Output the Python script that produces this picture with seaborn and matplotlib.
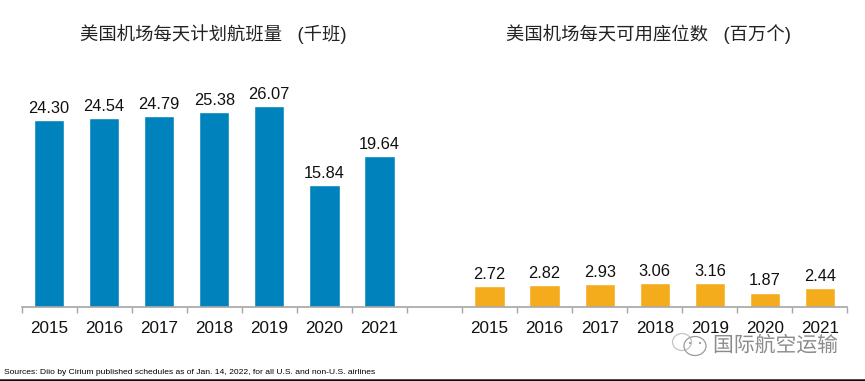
import matplotlib
matplotlib.use('Agg')
import matplotlib.pyplot as plt
import matplotlib.patheffects as pe
from matplotlib.lines import Line2D
from matplotlib.patches import Ellipse
from matplotlib.transforms import Affine2D
import pandas as pd
import seaborn as sns

# Values
years = ['2015', '2016', '2017', '2018', '2019', '2020', '2021']
flights = [24.30, 24.54, 24.79, 25.38, 26.07, 15.84, 19.64]
seats = [2.72, 2.82, 2.93, 3.06, 3.16, 1.87, 2.44]

title_left = '美国机场每天计划航班量   (千班)'
title_right = '美国机场每天可用座位数   (百万个)'
source_text = 'Sources: Diio by Cirium published schedules as of Jan. 14, 2022, for all U.S. and non-U.S. airlines'
watermark = '国际航空运输'

W, H = 865, 381

sns.set_theme(style='white')
plt.rcParams['font.family'] = ['Liberation Sans', 'Noto Sans CJK SC', 'DejaVu Sans']

# One shared axis: 7 years, an empty slot, 7 years
left = pd.DataFrame({'slot': range(7), 'value': flights, 'group': 'flights'})
right = pd.DataFrame({'slot': range(8, 15), 'value': seats, 'group': 'seats'})
df = pd.concat([left, right], ignore_index=True)

fig = plt.figure(figsize=(W / 100, H / 100), dpi=100, facecolor='white')
ax = fig.add_axes([21.5 / W, 1 - 307 / H, 826 / W, 257 / H])

sns.barplot(data=df, x='slot', y='value', hue='group', order=range(15), dodge=False, width=0.55,
            saturation=1, palette={'flights': '#0083BD', 'seats': '#F4AB1C'}, legend=False, ax=ax)

for container in ax.containers:
    ax.bar_label(container, fmt='%.2f', padding=3, fontsize=11.8, color='#111111')

ax.set_xlim(-0.5, 14.5)
ax.set_ylim(0, 33.4)
ax.set_xlabel('')
ax.set_ylabel('')
ax.set_yticks([])

# Year labels centred on the bars, tick marks on the slot edges
ax.set_xticks(list(range(7)) + list(range(8, 15)))
ax.set_xticklabels(years + years, fontsize=12.3, color='#111111')
ax.tick_params(axis='x', which='major', length=0, pad=10)
ax.set_xticks([i - 0.5 for i in range(16)], minor=True)
ax.tick_params(axis='x', which='minor', bottom=True, length=4, width=1, color='#A6A6A6')

sns.despine(ax=ax, left=True)
ax.spines['bottom'].set_color('#A6A6A6')
ax.spines['bottom'].set_linewidth(1.2)

fig.text(213 / W, 1 - 34 / H, title_left, fontsize=13.2, color='#222222', ha='center', va='center')
fig.text(648.5 / W, 1 - 34 / H, title_right, fontsize=13.2, color='#222222', ha='center', va='center')

fig.text(4 / W, 1 - 372 / H, source_text, fontsize=6.1, color='#000000', ha='left', va='center')
fig.add_artist(Line2D([0, 1], [1 - 379.5 / H] * 2, color='#111111', lw=1.8))

# Watermark: chat bubbles and name
halo = [pe.withStroke(linewidth=2, foreground='white')]
fig.text(713 / W, 1 - 345.5 / H, watermark, fontsize=15, color='#8C8C8C', ha='left', va='center',
         path_effects=halo, zorder=5)

pixels = Affine2D().scale(1, -1).translate(0, H)
for cx, cy, w, h, edge in [(682, 342, 19, 17, '#C4C4C4'), (695, 346, 22, 19, '#9A9A9A')]:
    fig.add_artist(Ellipse((cx, cy), w, h, transform=pixels, fc='none', ec=edge, lw=0.9, zorder=4))
for cx, cy in [(690, 343), (700, 343)]:
    fig.add_artist(Ellipse((cx, cy), 2.2, 2.2, transform=pixels, fc='#9A9A9A', ec='none', zorder=5))

fig.savefig('out.png', dpi=100)
